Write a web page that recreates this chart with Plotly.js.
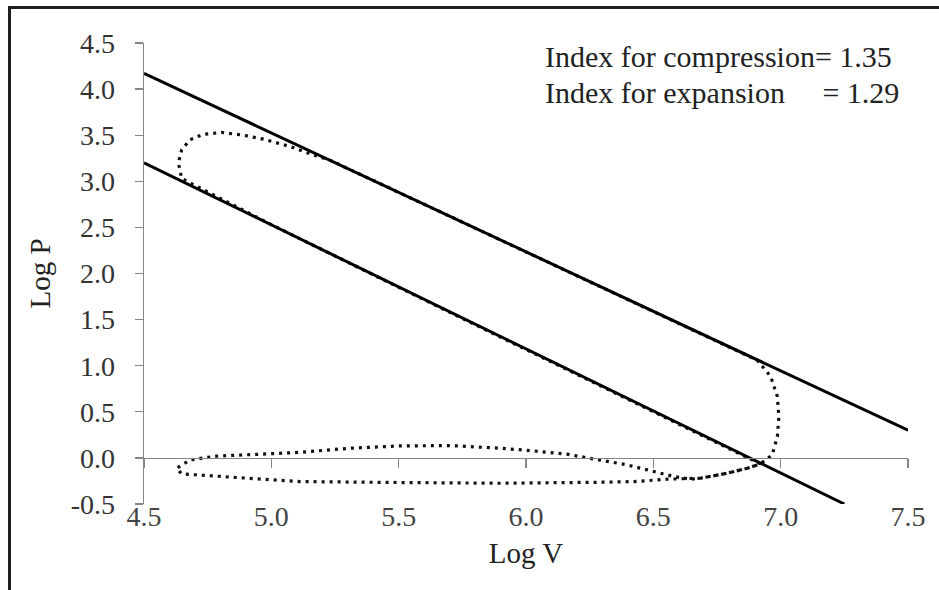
<!DOCTYPE html>
<html>
<head>
<meta charset="utf-8">
<script src="https://cdn.plot.ly/plotly-3.0.1.min.js"></script>
<style>
  html, body { margin: 0; padding: 0; background: #fff; overflow: hidden; }
  #chart { position: absolute; left: 0; top: 0; width: 939px; height: 590px; }
  #frame { position: absolute; left: 8px; top: 6px; width: 1000px; height: 1000px;
           border-left: 3px solid #1e1e1e; border-top: 3px solid #1e1e1e; pointer-events: none; }
</style>
</head>
<body>
<div id="chart"></div>
<div id="frame"></div>
<script>
// Solid polytropic lines
const expansionLineV = [4.5, 7.5];
const expansionLineP = [4.17, 0.30];
const compressionLineV = [4.5, 7.25];
const compressionLineP = [3.20, -0.50];

// Dotted indicator cycle (log V, log P)
const cycleV = [6.92, 6.5, 6.0, 5.5, 5.0, 4.648,
  4.635, 4.648, 4.68, 4.733, 4.805, 4.89, 4.969, 5.074, 5.165, 5.231,
  5.5, 6.0, 6.5, 6.908,
  6.961, 6.987, 6.993, 6.987, 6.967, 6.92,
  6.869, 6.79, 6.686, 6.646,
  6.58, 6.502, 6.398, 6.293, 6.161, 6.03, 5.9, 5.703, 5.506, 5.31, 5.113, 4.982, 4.786, 4.681, 4.628,
  4.648, 4.786, 4.982, 5.113, 5.506, 5.9, 6.293, 6.424, 6.555, 6.646,
  6.686, 6.79, 6.869, 6.92];
const cycleP = [-0.065, 0.50, 1.18, 1.85, 2.53, 3.03,
  3.20, 3.34, 3.45, 3.51, 3.53, 3.50, 3.457, 3.377, 3.286, 3.228,
  2.88, 2.235, 1.59, 1.06,
  0.882, 0.665, 0.448, 0.231, 0.033, -0.065,
  -0.112, -0.166, -0.22, -0.231,
  -0.202, -0.148, -0.076, -0.025, 0.04, 0.076, 0.105, 0.134, 0.13, 0.105, 0.061, 0.043, 0.02, -0.022, -0.112,
  -0.174, -0.2, -0.239, -0.257, -0.267, -0.275, -0.264, -0.257, -0.231, -0.225,
  -0.22, -0.166, -0.112, -0.065];

const xTicks = [4.5, 5.0, 5.5, 6.0, 6.5, 7.0, 7.5];
const yTicks = [-0.5, 0.0, 0.5, 1.0, 1.5, 2.0, 2.5, 3.0, 3.5, 4.0, 4.5];

const noteLines = ['Index for compression= 1.35',
                   'Index for expansion\u00A0\u00A0\u00A0\u00A0\u00A0= 1.29'];

const serif = 'Liberation Serif';
const axisGray = '#868686';

const traces = [
  { x: cycleV, y: cycleP, type: 'scatter', mode: 'lines',
    line: { color: '#111', width: 3.2, dash: '3px,5px' }, hoverinfo: 'skip', showlegend: false },
  { x: expansionLineV, y: expansionLineP, type: 'scatter', mode: 'lines',
    line: { color: '#000', width: 3 }, showlegend: false },
  { x: compressionLineV, y: compressionLineP, type: 'scatter', mode: 'lines',
    line: { color: '#000', width: 3 }, showlegend: false }
];

const layout = {
  width: 939, height: 590,
  margin: { l: 144, r: 31, t: 43, b: 86 },
  paper_bgcolor: '#fff', plot_bgcolor: '#fff',
  showlegend: false,
  font: { family: serif, color: '#333' },
  xaxis: {
    range: [4.5, 7.5], tickvals: xTicks, ticktext: xTicks.map(v => v.toFixed(1)),
    anchor: 'free', position: 0.1,
    showline: true, linecolor: axisGray, linewidth: 1.3,
    ticks: 'outside', ticklen: 9, tickcolor: axisGray, tickwidth: 1.3,
    ticklabelstandoff: 24,
    tickfont: { family: serif, size: 28, color: '#444' },
    showgrid: false, zeroline: false, automargin: false,
    title: { text: 'Log V', font: { family: serif, size: 29, color: '#222' }, standoff: 12 }
  },
  yaxis: {
    range: [-0.5, 4.5], tickvals: yTicks, ticktext: yTicks.map(v => v.toFixed(1)),
    showline: true, linecolor: axisGray, linewidth: 1.3,
    ticks: 'outside', ticklen: 8, tickcolor: axisGray, tickwidth: 1.3,
    ticklabelstandoff: 14,
    tickfont: { family: serif, size: 28, color: '#333' },
    showgrid: false, zeroline: false, automargin: false,
    title: { text: 'Log P', font: { family: serif, size: 29, color: '#222' }, standoff: 11 }
  },
  annotations: [
    { text: noteLines[0], xref: 'paper', yref: 'paper', x: 0.5223, y: 0.9718,
      xanchor: 'left', yanchor: 'middle', showarrow: false,
      font: { family: serif, size: 30, color: '#222' } },
    { text: noteLines[1], xref: 'paper', yref: 'paper', x: 0.5223, y: 0.8937,
      xanchor: 'left', yanchor: 'middle', showarrow: false,
      font: { family: serif, size: 30, color: '#222' } }
  ]
};

Plotly.newPlot('chart', traces, layout, { staticPlot: true, displayModeBar: false });
</script>
</body>
</html>
